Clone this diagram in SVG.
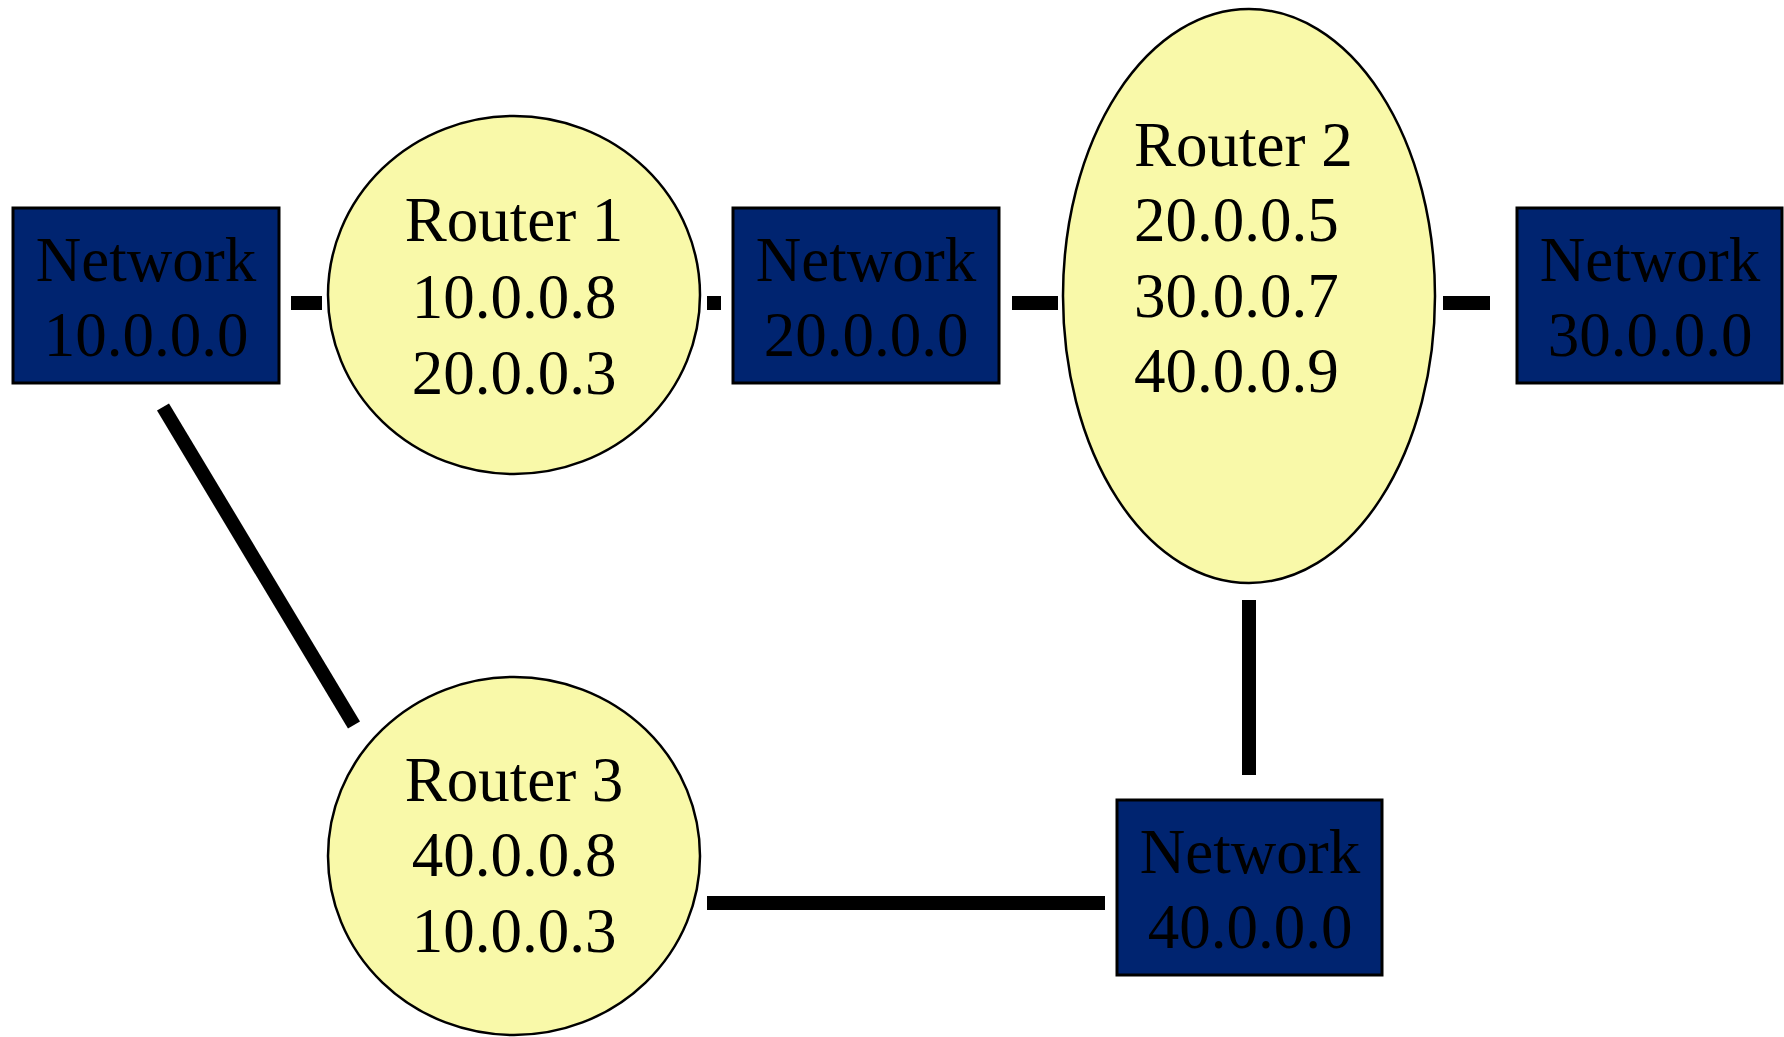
<svg xmlns="http://www.w3.org/2000/svg" width="1784" height="1037" viewBox="0 0 1784 1037">
  <style>
    .net rect { fill: #002470; stroke: #000; stroke-width: 3; }
    .router ellipse { fill: #F9F9A9; stroke: #000; stroke-width: 2.5; }
    text { font-family: "Liberation Serif", "Times New Roman", serif; font-size: 63px; fill: #000; }
    .mid { text-anchor: middle; }
    #links line { stroke: #000; stroke-width: 14; stroke-linecap: butt; }
  </style>
  <rect width="1784" height="1037" fill="#fff"/>

  <!-- links between networks and routers -->
  <g id="links">
    <line x1="291" y1="303" x2="322" y2="303"/>
    <line x1="707" y1="303" x2="721" y2="303"/>
    <line x1="1012" y1="303" x2="1058" y2="303"/>
    <line x1="1443" y1="303" x2="1490" y2="303"/>
    <line x1="163" y1="407" x2="354" y2="725"/>
    <line x1="1249" y1="600" x2="1249" y2="775"/>
    <line x1="707" y1="903" x2="1105" y2="903"/>
  </g>

  <g id="net10" class="net">
    <rect x="13" y="208" width="266" height="175"/>
    <text class="mid" x="146" y="281">Network</text>
    <text class="mid" x="146" y="356">10.0.0.0</text>
  </g>

  <g id="router1" class="router">
    <ellipse cx="514" cy="295" rx="186" ry="179"/>
    <text class="mid" x="514" y="241">Router 1</text>
    <text class="mid" x="514" y="318">10.0.0.8</text>
    <text class="mid" x="514" y="394">20.0.0.3</text>
  </g>

  <g id="net20" class="net">
    <rect x="733" y="208" width="266" height="175"/>
    <text class="mid" x="866" y="281">Network</text>
    <text class="mid" x="866" y="356">20.0.0.0</text>
  </g>

  <g id="router2" class="router">
    <ellipse cx="1249" cy="296" rx="186" ry="287"/>
    <text x="1134" y="166">Router 2</text>
    <text x="1134" y="241">20.0.0.5</text>
    <text x="1134" y="317">30.0.0.7</text>
    <text x="1134" y="392">40.0.0.9</text>
  </g>

  <g id="net30" class="net">
    <rect x="1517" y="208" width="265" height="175"/>
    <text class="mid" x="1650" y="281">Network</text>
    <text class="mid" x="1650" y="356">30.0.0.0</text>
  </g>

  <g id="router3" class="router">
    <ellipse cx="514" cy="856" rx="186" ry="179"/>
    <text class="mid" x="514" y="801">Router 3</text>
    <text class="mid" x="514" y="876">40.0.0.8</text>
    <text class="mid" x="514" y="952">10.0.0.3</text>
  </g>

  <g id="net40" class="net">
    <rect x="1117" y="800" width="265" height="175"/>
    <text class="mid" x="1250" y="873">Network</text>
    <text class="mid" x="1250" y="948">40.0.0.0</text>
  </g>
</svg>
